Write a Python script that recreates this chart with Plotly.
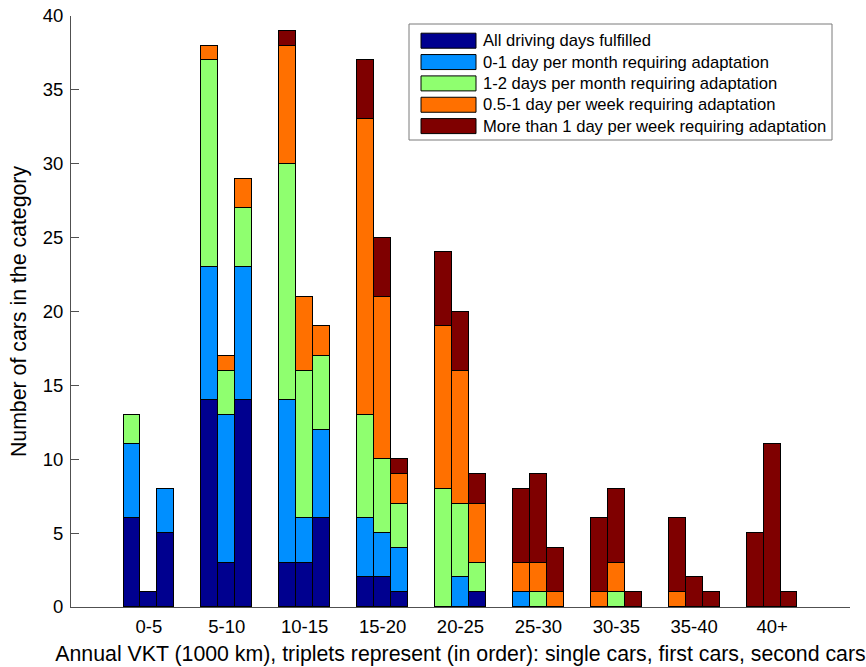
import plotly.graph_objects as go

# Annual VKT bins; each bin holds a triplet: single cars, first cars, second cars
bins = ["0-5", "5-10", "10-15", "15-20", "20-25", "25-30", "30-35", "35-40", "40+"]
car_types = ["single", "first", "second"]

categories = [
    "All driving days fulfilled",
    "0-1 day per month requiring adaptation",
    "1-2 days per month requiring adaptation",
    "0.5-1 day per week requiring adaptation",
    "More than 1 day per week requiring adaptation",
]
colors = ["#00008F", "#008FFF", "#8FFF6F", "#FF7000", "#7F0000"]

# counts per bin, ordered [single, first, second] within each bin
all_fulfilled = [6, 1, 5, 14, 3, 14, 3, 3, 6, 2, 2, 1, 0, 0, 1, 0, 0, 0, 0, 0, 0, 0, 0, 0, 0, 0, 0]
per_month_0_1 = [5, 0, 3, 9, 10, 9, 11, 3, 6, 4, 3, 3, 0, 2, 0, 1, 0, 0, 0, 0, 0, 0, 0, 0, 0, 0, 0]
per_month_1_2 = [2, 0, 0, 14, 3, 4, 16, 10, 5, 7, 5, 3, 8, 5, 2, 0, 1, 0, 0, 1, 0, 0, 0, 0, 0, 0, 0]
per_week_05_1 = [0, 0, 0, 1, 1, 2, 8, 5, 2, 20, 11, 2, 11, 9, 4, 2, 2, 1, 1, 2, 0, 1, 0, 0, 0, 0, 0]
per_week_gt_1 = [0, 0, 0, 0, 0, 0, 1, 0, 0, 4, 4, 1, 5, 4, 2, 5, 6, 3, 5, 5, 1, 5, 2, 1, 5, 11, 1]

series = [all_fulfilled, per_month_0_1, per_month_1_2, per_week_05_1, per_week_gt_1]

bar_w = 0.2167
offsets = [-bar_w, 0.0, bar_w]
xpos = [g + 1 + offsets[k] for g in range(len(bins)) for k in range(len(car_types))]

fig = go.Figure()
for name, col, vals in zip(categories, colors, series):
    fig.add_trace(go.Bar(
        x=xpos, y=vals, width=bar_w, name=name,
        marker=dict(color=col, line=dict(color="black", width=1)),
        showlegend=False,
    ))

W, H = 866, 667
L, R, T, B = 71, 16, 16, 60
pw, ph = W - L - R, H - T - B


def px(x):
    return (x - L) / pw


def py(y):
    return (H - B - y) / ph


font = "Liberation Sans, Arial, Helvetica, sans-serif"

shapes = []
annotations = []
# legend frame
shapes.append(dict(type="rect", xref="paper", yref="paper",
                   x0=px(409), x1=px(832), y0=py(140), y1=py(24),
                   line=dict(color="#7a7a7a", width=1), fillcolor="white", layer="above"))
row0, step = 40.7, 21.35
for i, (name, col) in enumerate(zip(categories, colors)):
    yc = row0 + i * step
    shapes.append(dict(type="rect", xref="paper", yref="paper",
                       x0=px(421), x1=px(476), y0=py(yc + 7.5), y1=py(yc - 7.5),
                       line=dict(color="black", width=1), fillcolor=col, layer="above"))
    annotations.append(dict(xref="paper", yref="paper", x=px(481), y=py(yc),
                            xanchor="left", yanchor="middle", showarrow=False,
                            text=name, font=dict(family=font, size=16.6, color="black")))

fig.update_layout(
    width=W, height=H,
    margin=dict(l=L, r=R, t=T, b=B, autoexpand=False),
    paper_bgcolor="white", plot_bgcolor="white",
    barmode="stack", bargap=0,
    font=dict(family=font, size=18, color="black"),
    shapes=shapes, annotations=annotations,
    xaxis=dict(
        range=[0, 10], tickvals=list(range(1, len(bins) + 1)), ticktext=bins,
        showgrid=False, zeroline=False, showline=True, linecolor="#505050", linewidth=1,
        ticks="", tickfont=dict(size=18.5), automargin=False, ticklabelstandoff=3,
        title=dict(text="Annual VKT (1000 km), triplets represent (in order): single cars, first cars, second cars",
                   font=dict(size=21.3), standoff=9),
    ),
    yaxis=dict(
        range=[0, 40], tickvals=list(range(0, 41, 5)),
        showgrid=False, zeroline=False, showline=True, linecolor="#505050", linewidth=1,
        ticks="inside", ticklen=8, tickcolor="#505050", tickfont=dict(size=18.5),
        ticklabelstandoff=3, automargin=False,
        title=dict(text="Number of cars in the category", font=dict(size=21.3), standoff=10),
    ),
)

fig.write_html("out.html")
